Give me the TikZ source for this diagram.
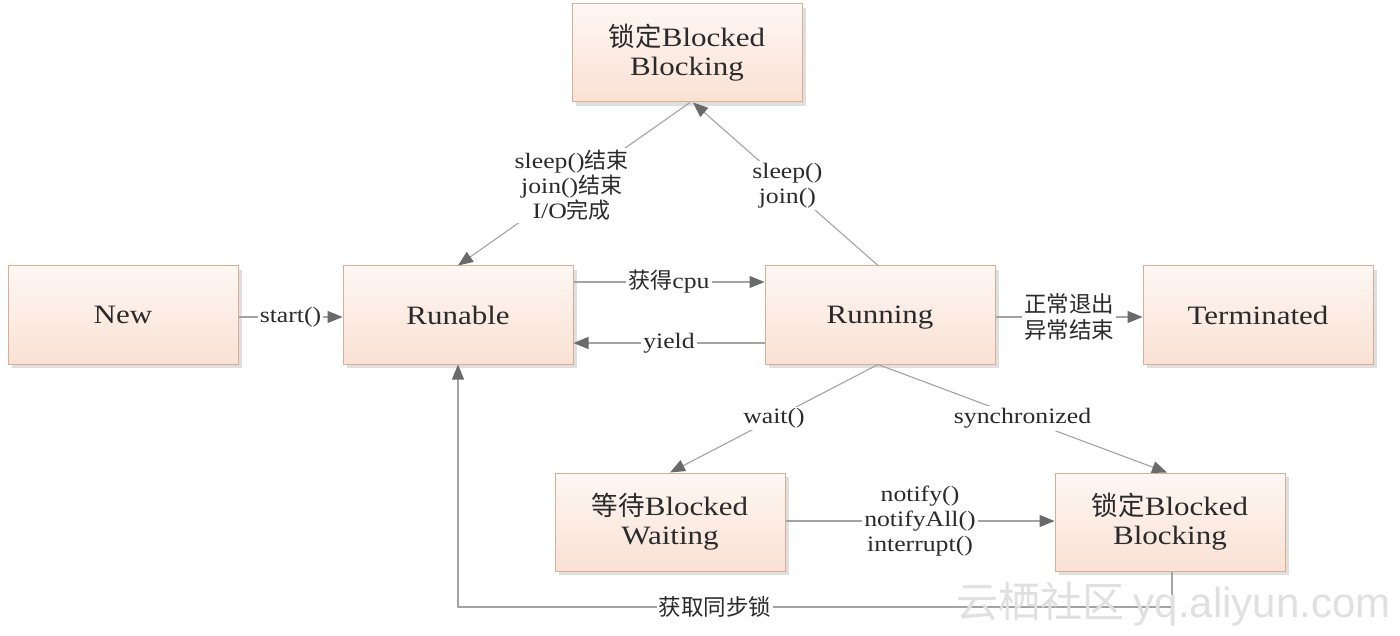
\documentclass[tikz,border=0pt]{standalone}
\usepackage{fontspec}
\setmainfont{Liberation Serif}[FakeStretch=1.17]
\newfontfamily\cjk{Noto Sans CJK SC}
\newfontfamily\wmfont{Liberation Sans}
\usetikzlibrary{arrows.meta,shadows}
\definecolor{boxborder}{HTML}{D9AE92}
\definecolor{boxtop}{HTML}{FEF7F3}
\definecolor{boxbot}{HTML}{FAE1D4}
\definecolor{linegray}{HTML}{A3A3A3}
\definecolor{tipgray}{HTML}{6A6A6A}
\definecolor{txt}{HTML}{2A2A2A}
\newcommand{\nodep}[1]{\raisebox{0pt}[\height][0pt]{#1}}
\tikzset{
  state/.style={draw=boxborder, line width=1pt, top color=boxtop, bottom color=boxbot,
    minimum width=230pt, minimum height=98pt, inner sep=0pt, align=center,
    font=\fontsize{26.5}{29}\selectfont, text=txt,
    drop shadow={shadow xshift=4pt, shadow yshift=-4pt, fill=black!35, opacity=0.35}},
  conn/.style={draw=linegray, line width=1.1pt,
    -{Triangle[length=15pt,width=12pt,color=tipgray]}},
  lab/.style={fill=white, inner sep=2pt, align=center, text=txt,
    font=\fontsize{22}{25}\selectfont},
  cjklab/.style={lab, font=\cjk\fontsize{22.5}{26}\selectfont}
}
\begin{document}
\begin{tikzpicture}[x=1pt,y=-1pt]
\useasboundingbox[fill=white] (0,0) rectangle (1400,636);
\node[state] (new) at (123,315) {\nodep{New}};
\node[state] (run) at (458,315) {\nodep{Runable}};
\node[state] (ring) at (880,315) {\nodep{Running}};
\node[state] (term) at (1258,315) {\nodep{Terminated}};
\node[state] (tb) at (687,53) {{\cjk 锁定}Blocked\\Blocking};
\node[state] (wait) at (670,522) {{\cjk 等待}Blocked\\Waiting};
\node[state] (bb) at (1170,522) {{\cjk 锁定}Blocked\\Blocking};
\coordinate (low) at (0,607);

\draw[conn] ([yshift=-2pt]new.east) -- node[lab]{start()} ([yshift=-2pt]run.west);
\draw[conn] ([yshift=33pt]run.east) -- node[lab]{{\cjk 获得}cpu} ([yshift=33pt]ring.west);
\draw[conn] ([yshift=-28pt]ring.west) -- node[lab]{yield} ([yshift=-28pt]run.east);
\draw[conn] ([yshift=-2pt]ring.east) -- node[cjklab, pos=0.5]{正常退出\\异常结束} ([yshift=-2pt]term.west);
\draw[conn] ([xshift=3pt]tb.south) -- node[lab, pos=0.51]{sleep(){\cjk 结束}\\join(){\cjk 结束}\\I/O{\cjk 完成}} (run.north);
\draw[conn] ([xshift=-2pt]ring.north) -- node[lab, pos=0.49]{sleep()\\join()} ([xshift=6pt]tb.south);
\draw[conn] ([xshift=-2pt]ring.south) -- node[lab, pos=0.5]{wait()} (wait.north);
\draw[conn] ([xshift=-2pt]ring.south) -- node[lab, pos=0.5]{synchronized} ([xshift=-3pt]bb.north);
\draw[conn] ([yshift=1pt]wait.east) -- node[lab]{notify()\\notifyAll()\\interrupt()} ([yshift=1pt]bb.west);
\draw[conn] ([xshift=2pt]bb.south) |- node[cjklab, pos=0.82]{获取同步锁} (run.south |- low) -- (run.south);

\node[text=black!12, font=\cjk\fontsize{42}{46}\selectfont, anchor=east] (wm) at (1394,604) {云栖社区 {\wmfont yq.aliyun.com}};
\end{tikzpicture}
\end{document}
